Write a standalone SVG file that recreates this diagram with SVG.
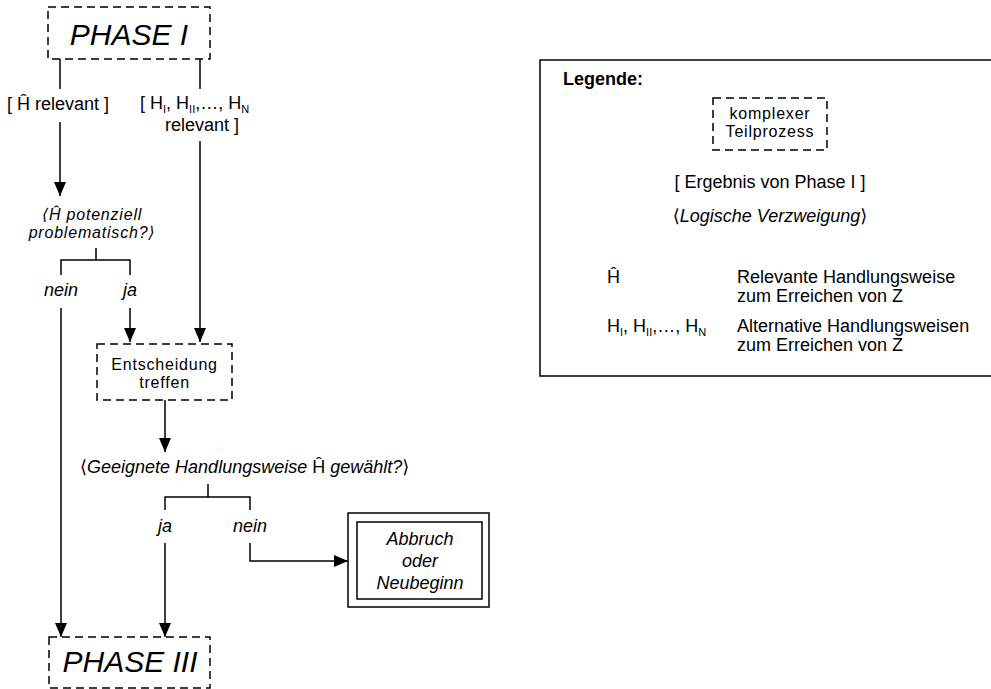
<svg xmlns="http://www.w3.org/2000/svg" width="991" height="689" viewBox="0 0 991 689">
<style>
text{font-family:"Liberation Sans",Arial,"DejaVu Sans",sans-serif;font-size:18px;fill:#000}
.it{font-style:italic}
.big{font-size:30px;font-style:italic}
.c{text-anchor:middle}
.two{font-size:16px;letter-spacing:0.8px}
.dash{fill:#fff;stroke:#000;stroke-width:1.5;stroke-dasharray:8 5}
.box{fill:#fff;stroke:#000;stroke-width:1.5}
.ln{fill:none;stroke:#000;stroke-width:1.5}
.sub{font-size:11px}
</style>
<defs>
<marker id="arr" markerUnits="userSpaceOnUse" markerWidth="14" markerHeight="12" refX="14" refY="6" orient="auto">
<path d="M0,0 L14,6 L0,12 Z" fill="#000"/>
</marker>
</defs>
<rect width="991" height="689" fill="#fff"/>

<g id="connectors">
<path class="ln" d="M60,59 V89"/>
<path class="ln" d="M60,122 V196" marker-end="url(#arr)"/>
<path class="ln" d="M200,59 V89"/>
<path class="ln" d="M200,141 V342" marker-end="url(#arr)"/>
<path class="ln" d="M96,248 V260 M61,275 V260 H130 V275"/>
<path class="ln" d="M61,308 V637" marker-end="url(#arr)"/>
<path class="ln" d="M130,308 V342" marker-end="url(#arr)"/>
<path class="ln" d="M165,400 V452" marker-end="url(#arr)"/>
<path class="ln" d="M208,484 V497 M165,510 V497 H250 V510"/>
<path class="ln" d="M165,543 V637" marker-end="url(#arr)"/>
<path class="ln" d="M250,543 V561 H348" marker-end="url(#arr)"/>
</g>

<g id="phase1">
<rect class="dash" x="48" y="7" width="162" height="52"/>
<text class="big c" x="129" y="45">PHASE I</text>
</g>

<g id="label-h-relevant">
<text x="7" y="110">[ Ĥ relevant ]</text>
</g>

<g id="label-hn-relevant">
<text x="140" y="109">[ H<tspan class="sub" dy="4">I</tspan><tspan dy="-4">, H</tspan><tspan class="sub" dy="4">II</tspan><tspan dy="-4">,…, H</tspan><tspan class="sub" dy="4">N</tspan></text>
<text x="202" y="131" class="c">relevant ]</text>
</g>

<g id="decision1">
<text class="it c two" x="92" y="220">⟨Ĥ potenziell</text>
<text class="it c two" x="92" y="238">problematisch?⟩</text>
</g>

<g id="labels1">
<text class="it c" x="61" y="296">nein</text>
<text class="it c" x="130" y="296">ja</text>
</g>

<g id="entscheidung">
<rect class="dash" x="97" y="344" width="135" height="56"/>
<text class="c two" x="164.5" y="370">Entscheidung</text>
<text class="c two" x="164.5" y="388">treffen</text>
</g>

<g id="decision2">
<text x="80" y="473"><tspan>⟨</tspan><tspan class="it">Geeignete Handlungsweise </tspan><tspan>Ĥ</tspan><tspan class="it"> gewählt?</tspan><tspan>⟩</tspan></text>
</g>

<g id="labels2">
<text class="it c" x="165" y="532">ja</text>
<text class="it c" x="250" y="532">nein</text>
</g>

<g id="abbruch">
<rect class="box" x="348" y="513" width="141" height="94"/>
<rect class="box" x="357" y="522" width="125" height="77"/>
<text class="it c" x="420" y="545">Abbruch</text>
<text class="it c" x="420" y="567">oder</text>
<text class="it c" x="420" y="589">Neubeginn</text>
</g>

<g id="phase3">
<rect class="dash" x="49" y="637" width="161" height="51"/>
<text class="big c" x="130" y="672">PHASE III</text>
</g>

<g id="legend">
<rect class="box" x="540" y="60" width="470" height="316"/>
<text x="563" y="85" font-weight="bold" font-size="19">Legende:</text>
<rect class="dash" x="713" y="98" width="114" height="52"/>
<text class="c two" x="770" y="119">komplexer</text>
<text class="c two" x="770" y="137">Teilprozess</text>
<text class="c" x="770" y="188">[ Ergebnis von Phase I ]</text>
<text class="c" x="770" y="222"><tspan>⟨</tspan><tspan class="it">Logische Verzweigung</tspan><tspan>⟩</tspan></text>
<text x="607" y="283">Ĥ</text>
<text x="737" y="283">Relevante Handlungsweise</text>
<text x="737" y="302">zum Erreichen von Z</text>
<text x="607" y="332">H<tspan class="sub" dy="4">I</tspan><tspan dy="-4">, H</tspan><tspan class="sub" dy="4">II</tspan><tspan dy="-4">,…, H</tspan><tspan class="sub" dy="4">N</tspan></text>
<text x="737" y="332">Alternative Handlungsweisen</text>
<text x="737" y="351">zum Erreichen von Z</text>
</g>
</svg>
